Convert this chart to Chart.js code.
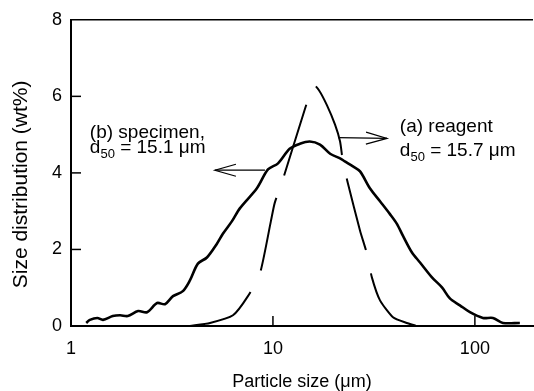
<!DOCTYPE html>
<html><head><meta charset="utf-8">
<script src="https://cdn.jsdelivr.net/npm/chart.js@4/dist/chart.umd.min.js"></script>
<style>html,body{margin:0;padding:0;background:#fff}#wrap{width:534px;height:391px}</style>
</head><body><div id="wrap"><canvas id="c" width="534" height="391"></canvas></div>
<script>
// (b) specimen – solid curve
const specimenSize = [1.19, 1.24, 1.35, 1.44, 1.61, 1.75, 1.91, 2.15, 2.38, 2.67, 2.92, 3.20, 3.58, 3.88, 4.25, 4.71, 5.28, 5.65, 6.27, 6.87, 8.33, 9.45, 10.6, 12.1, 13.6, 15.2, 17.1, 19.2, 21.5, 22.7, 24.9, 27.0, 30.2, 33.9, 37.9, 41.1, 44.0, 48.8, 53.5, 61.3, 68.7, 75.2, 84.3, 94.5, 109.6, 122.8, 137.6, 167];
const specimenWt   = [0.08, 0.16, 0.21, 0.16, 0.26, 0.28, 0.26, 0.39, 0.36, 0.60, 0.57, 0.78, 0.91, 1.19, 1.63, 1.79, 2.15, 2.41, 2.74, 3.08, 3.60, 4.09, 4.25, 4.63, 4.76, 4.82, 4.74, 4.50, 4.38, 4.30, 4.17, 4.04, 3.60, 3.26, 2.93, 2.67, 2.36, 1.92, 1.66, 1.27, 1.01, 0.72, 0.54, 0.36, 0.21, 0.21, 0.08, 0.08];
// (a) reagent – dashed curve
const reagentSize = [3.88, 4.88, 6.34, 7.52, 8.62, 9.77, 10.2, 11.2, 14.4, 15.9, 16.9, 18.5, 20.3, 21.5, 22.2, 23.5, 27.0, 29.2, 30.9, 33.9, 39.3, 46.0, 51.6];
const reagentWt   = [0, 0.08, 0.28, 0.78, 1.37, 2.74, 3.21, 3.83, 5.67, 6.30, 6.16, 5.77, 5.26, 4.82, 4.30, 3.73, 2.49, 1.89, 1.27, 0.67, 0.23, 0.08, 0];
const xTicks = [1, 10, 100];
const yTicks = [0, 2, 4, 6, 8];
const xTitle = 'Particle size (\u03bcm)';
const yTitle = 'Size distribution (wt%)';
const labelB = ['(b) specimen,', '15.1'];
const labelA = ['(a) reagent', '15.7'];

const FAM = '"Liberation Sans", Arial, sans-serif';

function drawD50(ctx, x, y, val) {
  ctx.font = '19px ' + FAM;
  ctx.fillText('d', x, y);
  let w = ctx.measureText('d').width;
  ctx.font = '13px ' + FAM;
  ctx.fillText('50', x + w, y + 5);
  w += ctx.measureText('50').width;
  ctx.font = '19px ' + FAM;
  ctx.fillText(' = ' + val + ' \u03bcm', x + w, y);
}
function arrow(ctx, x1, y1, x2, y2) {
  ctx.beginPath(); ctx.moveTo(x1, y1); ctx.lineTo(x2, y2); ctx.stroke();
  const ang = Math.atan2(y2 - y1, x2 - x1), L = 21, H = 6;
  const bx = x2 - L * Math.cos(ang), by = y2 - L * Math.sin(ang);
  const nx = -Math.sin(ang), ny = Math.cos(ang);
  ctx.beginPath();
  ctx.moveTo(bx + nx * H, by + ny * H); ctx.lineTo(x2, y2); ctx.lineTo(bx - nx * H, by - ny * H);
  ctx.stroke();
}

const annot = {
  id: 'annot',
  afterDraw(chart) {
    const {ctx, chartArea: a, scales: {x, y}} = chart;
    ctx.save();
    ctx.strokeStyle = '#000'; ctx.fillStyle = '#000';
    ctx.lineWidth = 1.5;
    ctx.beginPath(); ctx.moveTo(a.left, a.top); ctx.lineTo(a.right, a.top); ctx.stroke();
    xTicks.forEach(v => { if (v <= x.min) return; const px = x.getPixelForValue(v);
      ctx.beginPath(); ctx.moveTo(px, a.bottom); ctx.lineTo(px, a.bottom - 10); ctx.stroke(); });
    yTicks.forEach(v => { if (v <= y.min || v >= y.max) return; const py = y.getPixelForValue(v);
      ctx.beginPath(); ctx.moveTo(a.left, py); ctx.lineTo(a.left + 10, py); ctx.stroke(); });
    // y axis title
    ctx.save();
    ctx.translate(21, y.getPixelForValue(3.7));
    ctx.rotate(-Math.PI / 2);
    ctx.font = '21px ' + FAM; ctx.textAlign = 'center'; ctx.textBaseline = 'middle';
    ctx.fillText(yTitle, 0, 0);
    ctx.restore();
    ctx.textBaseline = 'alphabetic'; ctx.textAlign = 'left';
    // (b)
    ctx.font = '19px ' + FAM;
    ctx.fillText(labelB[0], x.getPixelForValue(1.24), y.getPixelForValue(4.92));
    drawD50(ctx, x.getPixelForValue(1.24), y.getPixelForValue(4.51), labelB[1]);
    // (a)
    ctx.font = '19px ' + FAM;
    ctx.fillText(labelA[0], x.getPixelForValue(42.5), y.getPixelForValue(5.08));
    drawD50(ctx, x.getPixelForValue(42.5), y.getPixelForValue(4.43), labelA[1]);
    ctx.lineWidth = 1.2;
    arrow(ctx, x.getPixelForValue(9.13), y.getPixelForValue(4.07), x.getPixelForValue(5.16), y.getPixelForValue(4.07));
    arrow(ctx, x.getPixelForValue(21.0), y.getPixelForValue(4.92), x.getPixelForValue(36.7), y.getPixelForValue(4.90));
    ctx.restore();
  }
};

new Chart(document.getElementById('c'), {
  type: 'line',
  data: { datasets: [
    { label: '(b) specimen', data: specimenSize.map((s, i) => ({x: s, y: specimenWt[i]})),
      borderColor: '#000', borderWidth: 2.6, pointRadius: 0, tension: 0.3, fill: false },
    { label: '(a) reagent', data: reagentSize.map((s, i) => ({x: s, y: reagentWt[i]})),
      borderColor: '#000', borderWidth: 2, borderDash: [74, 24], pointRadius: 0, tension: 0.2, fill: false }
  ]},
  options: {
    responsive: false, animation: false, devicePixelRatio: 1,
    layout: { padding: {left: 0, right: 1, top: 17, bottom: 0} },
    plugins: { legend: {display: false}, tooltip: {enabled: false} },
    scales: {
      x: { type: 'logarithmic', min: 1, max: 194,
        afterBuildTicks: s => { s.ticks = xTicks.map(v => ({value: v})); },
        afterFit: s => { s.height = 65; },
        grid: { display: false, drawTicks: false },
        border: { display: true, color: '#000', width: 2 },
        ticks: { color: '#000', font: {family: FAM, size: 18}, padding: 12, autoSkip: false, maxRotation: 0, callback: v => String(v) },
        title: { display: true, text: xTitle, color: '#000', font: {family: FAM, size: 18, lineHeight: 1}, padding: {top: 0, bottom: 0} }
      },
      y: { min: 0, max: 8,
        afterBuildTicks: s => { s.ticks = yTicks.map(v => ({value: v})); },
        afterFit: s => { s.width = 71; },
        grid: { display: false, drawTicks: false },
        border: { display: true, color: '#000', width: 2 },
        ticks: { color: '#000', font: {family: FAM, size: 18}, padding: 9 },
        title: { display: false }
      }
    }
  },
  plugins: [annot]
});
</script></body></html>
